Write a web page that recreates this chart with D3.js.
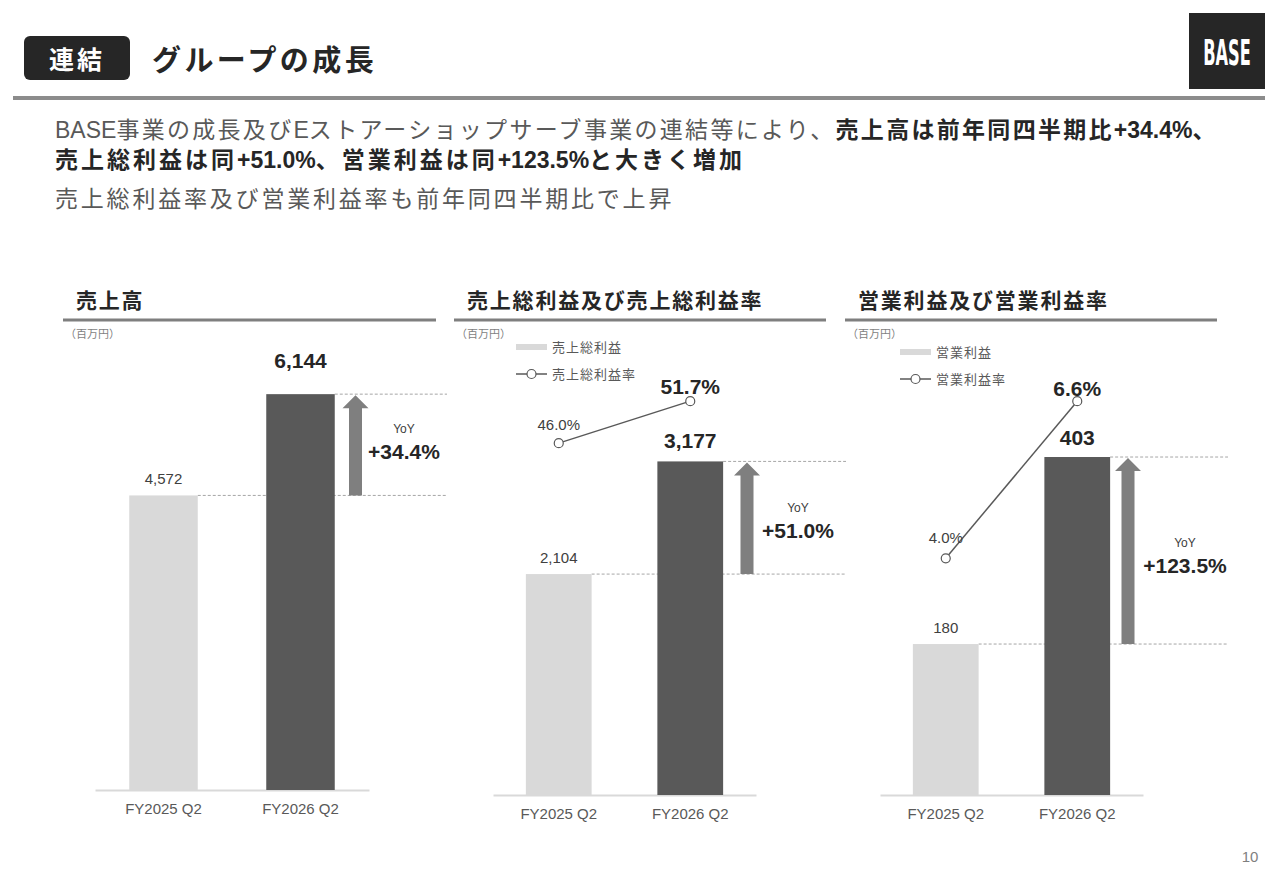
<!DOCTYPE html>
<html>
<head>
<meta charset="utf-8">
<script src="https://cdn.jsdelivr.net/npm/d3@7"></script>
<style>
body { margin: 0; background: #fff; }
svg text { font-family: "Liberation Sans", "Noto Sans CJK JP", sans-serif; }
</style>
</head>
<body>
<svg id="chart" width="1280" height="886"></svg>
<script>
// values
var categories = ["FY2025 Q2", "FY2026 Q2"];
var sales = [4572, 6144];
var grossProfit = [2104, 3177];
var grossMargin = [46.0, 51.7];
var operatingProfit = [180, 403];
var operatingMargin = [4.0, 6.6];
var yoyLabels = ["+34.4%", "+51.0%", "+123.5%"];
var panelTitles = ["売上高", "売上総利益及び売上総利益率", "営業利益及び営業利益率"];
var legendNames = [null, ["売上総利益", "売上総利益率"], ["営業利益", "営業利益率"]];

var LIGHT = "#d9d9d9", DARK = "#595959", ARROW = "#7f7f7f";

var svg = d3.select("#chart");

// ---- header
svg.append("rect").attr("x", 24).attr("y", 36).attr("width", 106).attr("height", 44)
  .attr("rx", 6).attr("fill", "#262626");
svg.append("text").attr("x", 77).attr("y", 69).attr("text-anchor", "middle")
  .attr("fill", "#fff").attr("font-size", 25).attr("font-weight", "bold")
  .attr("letter-spacing", 3).text("連結");
svg.append("text").attr("x", 152).attr("y", 71).attr("fill", "#262626")
  .attr("font-size", 29).attr("font-weight", "bold").attr("letter-spacing", 3.4)
  .text("グループの成長");
svg.append("rect").attr("x", 1189).attr("y", 13).attr("width", 76).attr("height", 76).attr("fill", "#262626");
svg.append("g").attr("transform", "translate(1227,65) scale(0.5,1)")
  .append("text").attr("text-anchor", "middle").attr("fill", "#fff")
  .attr("font-size", 36).attr("font-weight", "bold")
  .style("font-family", "'Liberation Sans Narrow', 'DejaVu Sans Condensed', sans-serif")
  .text("BASE");
svg.append("line").attr("x1", 13).attr("x2", 1265).attr("y1", 98).attr("y2", 98)
  .attr("stroke", "#8c8c8c").attr("stroke-width", 4);

// ---- lead text (spacing only on the Japanese runs)
var lead = [
  { y: 138, ls: 2.3, parts: [["BASE事業の成長及びEストアーショップサーブ事業の連結等により、", false], ["売上高は前年同四半期比+34.4%、", true]] },
  { y: 168, ls: 3.0, parts: [["売上総利益は同+51.0%、営業利益は同+123.5%と大きく増加", true]] },
  { y: 207, ls: 2.8, parts: [["売上総利益率及び営業利益率も前年同四半期比で上昇", false]] }
];
lead.forEach(function(l) {
  var t = svg.append("text").attr("x", 55).attr("y", l.y).attr("font-size", 23);
  l.parts.forEach(function(p) {
    p[0].match(/[\x00-\x7F]+|[^\x00-\x7F]+/g).forEach(function(run) {
      var latin = /^[\x00-\x7F]/.test(run);
      t.append("tspan").attr("fill", p[1] ? "#262626" : "#595959")
        .attr("font-weight", p[1] ? "bold" : "normal")
        .attr("letter-spacing", latin ? 0 : l.ls).text(run);
    });
  });
});

svg.append("text").attr("x", 1250).attr("y", 862).attr("text-anchor", "middle")
  .attr("fill", "#7f7f7f").attr("font-size", 15).text("10");

// ---- panels (layout only; values come from the arrays above)
var panels = [
  { bars: sales, rate: null, titleX: 76, rule: [63, 436], axis: [95, 369], base: 790,
    yDomain: 7000, yTop: 339, arrowX: 355.5, dashEnd: 447, yoyX: 404, yoyDy: -16, darkGap: 26 },
  { bars: grossProfit, rate: grossMargin, titleX: 467, rule: [454, 826], axis: [493, 756], base: 795,
    yDomain: 3500, yTop: 427.5, arrowX: 747, dashEnd: 846, yoyX: 798, yoyDy: -10, darkGap: 13.5,
    rDomain: 60, rRange: [782, 340], legX: 516, legY: 347, rateGaps: [13, 7.5] },
  { bars: operatingProfit, rate: operatingMargin, titleX: 858, rule: [845, 1217], axis: [880, 1143], base: 795,
    yDomain: 450, yTop: 417.6, arrowX: 1128, dashEnd: 1228, yoyX: 1185, yoyDy: -8, darkGap: 12.5,
    rDomain: 7, rRange: [800, 377], legX: 900, legY: 352, rateGaps: [15, 5.5] }
];

panels.forEach(function(p, pi) {
  var g = svg.append("g");

  g.append("text").attr("x", p.titleX).attr("y", 308).attr("font-size", 21)
    .attr("font-weight", "bold").attr("letter-spacing", 1.8).attr("fill", "#262626")
    .text(panelTitles[pi]);
  g.append("line").attr("x1", p.rule[0]).attr("x2", p.rule[1]).attr("y1", 320).attr("y2", 320)
    .attr("stroke", "#7f7f7f").attr("stroke-width", 3);
  g.append("text").attr("x", p.rule[0] + 2).attr("y", 338).attr("font-size", 11)
    .attr("fill", "#7f7f7f").text("（百万円）");

  var x = d3.scaleBand().domain(categories).range(p.axis).paddingInner(0.5).paddingOuter(0.25);
  var y = d3.scaleLinear().domain([0, p.yDomain]).range([p.base, p.yTop]);

  // category axis
  var ax = g.append("g").attr("transform", "translate(0," + p.base + ")")
    .call(d3.axisBottom(x).tickSize(0).tickSizeOuter(0).tickPadding(13));
  ax.select(".domain").attr("stroke", LIGHT).attr("stroke-width", 2);
  ax.selectAll("text").attr("font-size", 15).attr("fill", "#595959")
    .style("font-family", "'Liberation Sans', sans-serif");

  // dashed guides
  var right = function(i) { return x(categories[i]) + x.bandwidth(); };
  [0, 1].forEach(function(i) {
    g.append("line").attr("x1", right(i)).attr("x2", p.dashEnd)
      .attr("y1", y(p.bars[i])).attr("y2", y(p.bars[i]))
      .attr("stroke", "#a6a6a6").attr("stroke-width", 1).attr("stroke-dasharray", "3,2");
  });

  // bars
  g.selectAll("rect.bar").data(p.bars).enter().append("rect").attr("class", "bar")
    .attr("x", function(d, i) { return x(categories[i]); })
    .attr("width", x.bandwidth())
    .attr("y", function(d) { return y(d); })
    .attr("height", function(d) { return p.base - y(d); })
    .attr("fill", function(d, i) { return i ? DARK : LIGHT; });

  // value labels
  g.selectAll("text.val").data(p.bars).enter().append("text").attr("class", "val")
    .attr("x", function(d, i) { return x(categories[i]) + x.bandwidth() / 2; })
    .attr("y", function(d, i) { return y(d) - (i ? p.darkGap : 11); })
    .attr("text-anchor", "middle")
    .attr("font-size", function(d, i) { return i ? 21 : 15; })
    .attr("font-weight", function(d, i) { return i ? "bold" : "normal"; })
    .attr("fill", function(d, i) { return i ? "#262626" : "#404040"; })
    .text(d3.format(","));

  // growth arrow
  var y0 = y(p.bars[0]), y1 = y(p.bars[1]) + 1, ax0 = p.arrowX;
  g.append("path").attr("fill", ARROW)
    .attr("d", d3.line()([
      [ax0 - 6.5, y0], [ax0 - 6.5, y1 + 13], [ax0 - 13, y1 + 13], [ax0, y1],
      [ax0 + 13, y1 + 13], [ax0 + 6.5, y1 + 13], [ax0 + 6.5, y0]
    ]) + "Z");
  var mid = (y0 + y1) / 2 + p.yoyDy;
  g.append("text").attr("x", p.yoyX).attr("y", mid + 4).attr("text-anchor", "middle")
    .attr("font-size", 12).attr("fill", "#404040").text("YoY");
  g.append("text").attr("x", p.yoyX).attr("y", mid + 30).attr("text-anchor", "middle")
    .attr("font-size", 21).attr("font-weight", "bold").attr("fill", "#262626")
    .text(yoyLabels[pi]);

  if (!p.rate) return;

  // legend
  var names = legendNames[pi];
  g.append("rect").attr("x", p.legX).attr("y", p.legY - 3).attr("width", 31).attr("height", 6).attr("fill", LIGHT);
  g.append("text").attr("x", p.legX + 36).attr("y", p.legY + 4.5).attr("font-size", 13)
    .attr("fill", "#595959").attr("letter-spacing", 1).text(names[0]);
  var ly = p.legY + 27;
  g.append("line").attr("x1", p.legX).attr("x2", p.legX + 31).attr("y1", ly).attr("y2", ly)
    .attr("stroke", DARK).attr("stroke-width", 1.5);
  g.append("circle").attr("cx", p.legX + 15.5).attr("cy", ly).attr("r", 4.5)
    .attr("fill", "#fff").attr("stroke", DARK).attr("stroke-width", 1.2);
  g.append("text").attr("x", p.legX + 36).attr("y", ly + 4.5).attr("font-size", 13)
    .attr("fill", "#595959").attr("letter-spacing", 1).text(names[1]);

  // margin line
  var r = d3.scaleLinear().domain([0, p.rDomain]).range(p.rRange);
  var cx = function(d, i) { return x(categories[i]) + x.bandwidth() / 2; };
  g.append("path").datum(p.rate)
    .attr("fill", "none").attr("stroke", DARK).attr("stroke-width", 1.5)
    .attr("d", d3.line().x(cx).y(function(d) { return r(d); }));
  g.selectAll("circle.pt").data(p.rate).enter().append("circle").attr("class", "pt")
    .attr("cx", cx).attr("cy", function(d) { return r(d); }).attr("r", 4.5)
    .attr("fill", "#fff").attr("stroke", DARK).attr("stroke-width", 1.2);
  g.selectAll("text.rate").data(p.rate).enter().append("text").attr("class", "rate")
    .attr("x", cx).attr("y", function(d, i) { return r(d) - p.rateGaps[i]; })
    .attr("text-anchor", "middle")
    .attr("font-size", function(d, i) { return i ? 21 : 15; })
    .attr("font-weight", function(d, i) { return i ? "bold" : "normal"; })
    .attr("fill", function(d, i) { return i ? "#262626" : "#404040"; })
    .text(function(d) { return d3.format(".1f")(d) + "%"; });
});
</script>
</body>
</html>
